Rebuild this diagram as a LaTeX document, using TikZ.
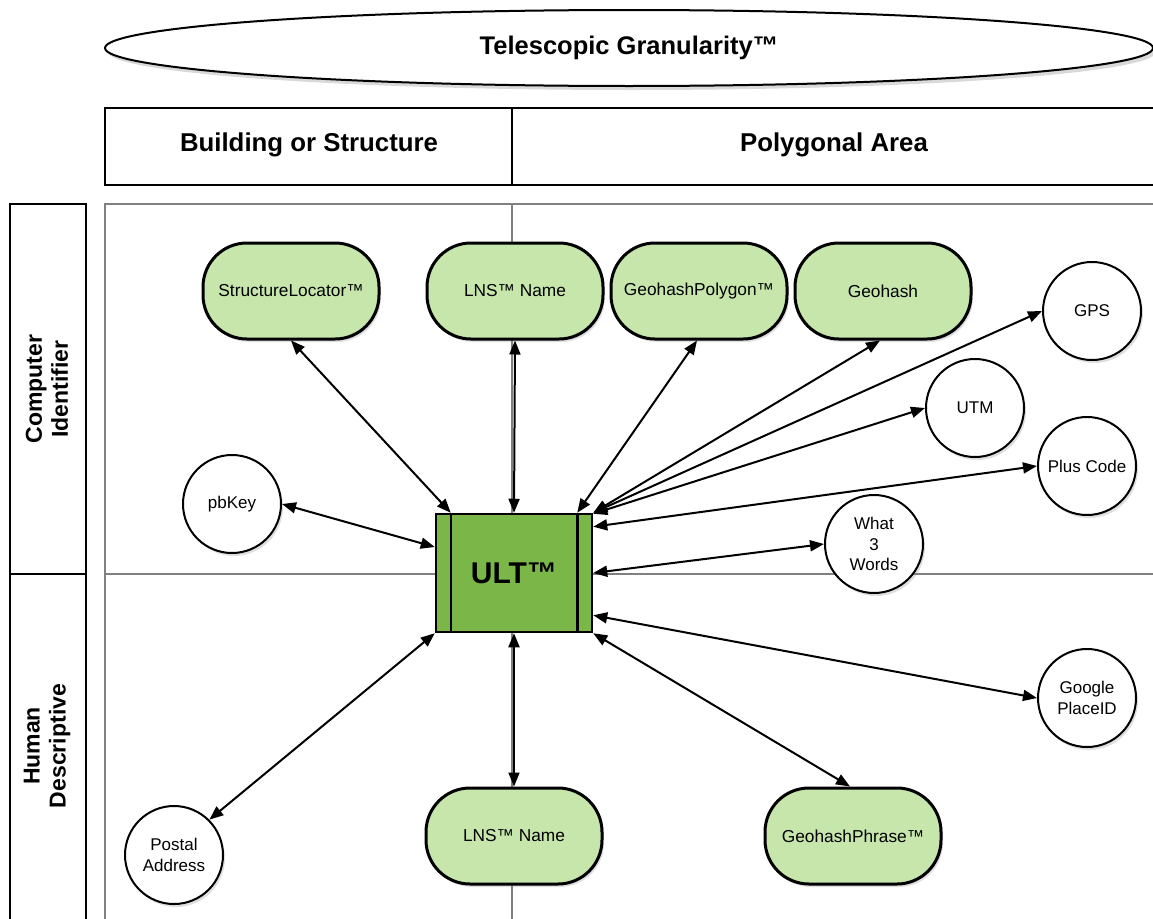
\documentclass[tikz,border=0pt]{standalone}
\usepackage{fontspec}
\setmainfont{Liberation Sans}
\usetikzlibrary{shapes.geometric,shadows,arrows.meta}
\definecolor{dkgreen}{HTML}{7AB648}
\definecolor{ltgreen}{HTML}{C7E6AC}
\definecolor{gridgray}{HTML}{808080}
\begin{document}
\begin{tikzpicture}[x=1pt,y=-1pt,
  shad/.style={drop shadow={opacity=0.25,shadow xshift=2pt,shadow yshift=-3pt}},
  pill/.style={draw,line width=3pt,fill=ltgreen,rounded corners=44pt,minimum width=176pt,minimum height=96pt,inner sep=2pt,font=\fontsize{17.3}{20.5}\selectfont,shad},
  circ/.style={draw,line width=2pt,fill=white,circle,minimum size=98pt,inner sep=0pt,align=center,font=\fontsize{17}{20.5}\selectfont,shad},
  arr/.style={line width=2pt,{Triangle[length=14pt,width=11pt]}-{Triangle[length=14pt,width=11pt]}},
  grid/.style={draw=gridgray,line width=1.8pt},
  frame/.style={draw=black,line width=2pt},
  lane/.style={font=\fontsize{23}{26}\selectfont\bfseries,rotate=90,align=center}
]
\useasboundingbox (0,0) rectangle (1153,918);
\clip (0,0) rectangle (1153,918);

% title ellipse
\node[ellipse,draw,line width=2pt,fill=white,minimum width=1048pt,minimum height=76pt,drop shadow={opacity=0.3,shadow xshift=3pt,shadow yshift=-4pt},font=\fontsize{25.5}{30}\selectfont\bfseries] (title) at (629,48) {Telescopic Granularity™};

% header table
\draw[frame] (1170,108) -- (105,108) -- (105,185) -- (1170,185);
\draw[frame] (512,108) -- (512,185);
\node[font=\fontsize{25.8}{30}\selectfont\bfseries] (hbld) at (309,145) {Building or Structure};
\node[font=\fontsize{25.8}{30}\selectfont\bfseries] (hpoly) at (834,145) {Polygonal Area};

% swimlanes
\draw[frame] (10,930) -- (10,204) -- (86,204) -- (86,930);
\draw[frame] (10,574) -- (86,574);
\node[lane] (lcomp) at (47,389) {Computer\\Identifier};
\node[lane] (lhum) at (47,746) {Human\\Descriptive};

% grid
\draw[grid] (1170,204) -- (105,204) -- (105,930);
\draw[grid] (512,204) -- (512,930);
\draw[grid] (105,574) -- (1170,574);

% central node
\node[draw,line width=2.5pt,fill=dkgreen,minimum width=156pt,minimum height=118pt,font=\fontsize{30}{34}\selectfont\bfseries] (ult) at (514,573) {ULT™};
\draw[line width=2.5pt] ([xshift=16pt]ult.north west) -- ([xshift=16pt]ult.south west);
\draw[line width=2.5pt] ([xshift=-16pt]ult.north east) -- ([xshift=-16pt]ult.south east);

% rounded nodes
\node[pill] (sl) at (291,291) {StructureLocator™};
\node[pill] (lns1) at (515,291) {LNS™ Name};
\node[pill] (ghp) at (699,291) {GeohashPolygon™};
\node[pill] (gh) at (883,291) {Geohash};
\node[pill] (lns2) at (514,836) {LNS™ Name};
\node[pill] (ghph) at (853,836) {GeohashPhrase™};

% circles
\node[circ] (gps) at (1092,311) {GPS};
\node[circ] (utm) at (975,408) {UTM};
\node[circ] (pc) at (1087,466) {Plus Code};
\node[circ] (w3w) at (874,544) {What\\3\\Words};
\node[circ] (pbkey) at (232,504) {pbKey};
\node[circ] (gpid) at (1087,698) {Google\\PlaceID};
\node[circ] (postal) at (174,855) {Postal\\Address};

% connectors
\draw[arr] ([xshift=16pt]ult.north west) -- (sl.south);
\draw[arr] (ult.north) -- (lns1.south);
\draw[arr] ([xshift=-16pt]ult.north east) -- ([xshift=-2pt]ghp.south);
\draw[arr] (ult.north east) -- ([xshift=-3pt]gh.south);
\draw[arr] (ult.north east) -- (gps.west);
\draw[arr] ([yshift=-1pt]ult.north east) -- (utm.west);
\draw[arr] ([yshift=-14pt]ult.north east) -- (pc.west);
\draw[arr] (ult.east) -- (w3w.west);
\draw[arr] ([yshift=18pt]ult.south east) -- (gpid.west);
\draw[arr] (ult.south east) -- ([xshift=-3pt]ghph.north);
\draw[arr] (ult.south) -- (lns2.north);
\draw[arr] (ult.south west) -- (postal.north east);
\draw[arr] ([yshift=26pt]ult.west) -- (pbkey.east);
\end{tikzpicture}
\end{document}
